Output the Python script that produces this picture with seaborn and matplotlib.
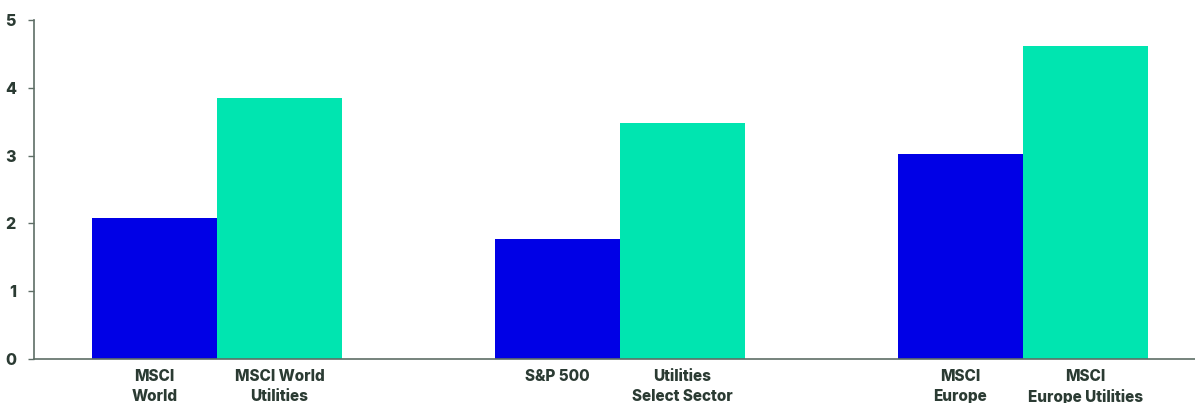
import matplotlib
matplotlib.use("Agg")
import matplotlib.pyplot as plt
import seaborn as sns
import pandas as pd

groups = ["World", "US", "Europe"]
series = ["Broad index", "Utilities"]
broad_values = [2.08, 1.77, 3.02]
utility_values = [3.85, 3.48, 4.62]
bar_labels = [
    ["MSCI\nWorld", "MSCI World\nUtilities"],
    ["S&P 500", "Utilities\nSelect Sector"],
    ["MSCI\nEurope", "MSCI\nEurope Utilities"],
]
y_ticks = [0, 1, 2, 3, 4, 5]
colors = ["#0000E6", "#00E5B0"]
text_color = "#2B3B33"
axis_color = "#5E6E66"

rows = []
for g, b, u in zip(groups, broad_values, utility_values):
    rows.append({"group": g, "series": series[0], "value": b})
    rows.append({"group": g, "series": series[1], "value": u})
df = pd.DataFrame(rows)

sns.set_theme(style="white")
plt.rcParams["font.family"] = ["Inter", "DejaVu Sans"]

fig = plt.figure(figsize=(11.95, 4.03), dpi=100)
ax = fig.add_axes([34 / 1195, 44 / 403, 1 - 34 / 1195, (359 - 20) / 403])

sns.barplot(data=df, x="group", y="value", hue="series", order=groups,
            hue_order=series, palette=colors, width=0.62, saturation=1,
            linewidth=0, errorbar=None, legend=False, ax=ax)

ax.set_ylim(0, 5)
ax.set_xlim(-0.454, 2.427)
ax.set_yticks(y_ticks)
ax.set_yticklabels([str(t) for t in y_ticks], fontsize=11.5, fontweight="heavy",
                   color=text_color)

# place a tick label under each bar
centers = []
for p in sorted(ax.patches, key=lambda p: p.get_x()):
    if p.get_width() > 0:
        centers.append(p.get_x() + p.get_width() / 2)
labels_flat = [lab for pair in bar_labels for lab in pair]
ax.set_xticks(centers)
ax.set_xticklabels(labels_flat, fontsize=11, fontweight="heavy",
                   color=text_color, linespacing=1.4, va="top")
ax.tick_params(axis="x", length=0, pad=7)
ax.tick_params(axis="y", length=4, width=1, color=axis_color, pad=9,
               direction="out", left=True)
ax.set_xlabel("")
ax.set_ylabel("")

for side in ["top", "right"]:
    ax.spines[side].set_visible(False)
for side in ["left", "bottom"]:
    ax.spines[side].set_color(axis_color)
    ax.spines[side].set_linewidth(1.2)

fig.savefig("out.png", dpi=100)
